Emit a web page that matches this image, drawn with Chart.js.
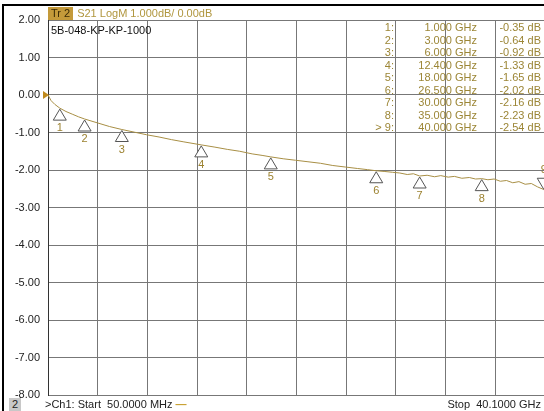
<!DOCTYPE html>
<html lang="en">
<head>
<meta charset="UTF-8">
<title>S21 LogM</title>
<script src="https://cdn.jsdelivr.net/npm/chart.js"></script>
<style>
  html, body { margin: 0; padding: 0; background: #fff; }
  body { width: 544px; height: 411px; overflow: hidden; position: relative; font-family: Arial, "Liberation Sans", sans-serif; }
  #chart { position: absolute; left: 0; top: 0; }
  .frame-top { position: absolute; left: 2px; top: 4px; width: 560px; height: 2px; background: #000; }
  .frame-left { position: absolute; left: 2px; top: 4px; width: 2px; height: 420px; background: #000; }
  .hdr { position: absolute; top: 7px; left: 48px; height: 13px; line-height: 13px; font-size: 11px; white-space: nowrap; }
  .tr { background: #c49a3a; color: #3b2b05; padding: 0 3px; display: inline-block; }
  .hdr .rest { color: #b0963e; margin-left: 4px; }
  .dut { position: absolute; top: 24px; left: 51px; font-size: 11px; color: #111; line-height: 13px; }
  .mk { position: absolute; font-size: 11px; color: #9c8636; line-height: 13px; white-space: nowrap; }
  .foot { position: absolute; top: 398px; font-size: 11px; line-height: 13px; color: #222; white-space: nowrap; }
  .chn { left: 9px; width: 12px; text-align: center; background: #c8c8c8; }
</style>
</head>
<body>
<canvas id="chart" width="560" height="411"></canvas>
<div class="frame-top"></div>
<div class="frame-left"></div>
<div class="hdr"><span class="tr">Tr 2</span><span class="rest">S21 LogM 1.000dB/ 0.00dB</span></div>
<div class="dut">5B-048-KP-KP-1000</div>
<div id="table"></div>
<div class="foot chn">2</div>
<div class="foot" style="left:45px">&gt;Ch1: Start&nbsp; 50.0000 MHz <span style="color:#c8a030;font-weight:bold">—</span></div>
<div class="foot" style="right:3px">Stop&nbsp; 40.1000 GHz</div>
<script>
// trace (GHz, dB)
const freqs = [0.05, 0.3, 0.6, 1.0, 1.5, 2.0, 2.5, 3.0, 4.0, 5.0, 6.0, 7.0, 8.0, 9.0, 10.0, 11.0,
  12.4, 13.5, 14.5, 15.5, 16.5, 17.3, 18.0, 19.0, 20.0, 21.0, 22.0, 23.0, 24.0, 25.0, 25.8,
  26.5, 27.2, 27.8, 28.4, 29.0, 29.5, 30.0, 30.6, 31.2, 31.7, 32.3, 32.8, 33.4, 34.0, 34.5,
  35.0, 35.5, 36.0, 36.5, 37.0, 37.5, 38.0, 38.5, 39.0, 39.5, 40.0, 40.1];
const s21 = [0.00, -0.15, -0.25, -0.35, -0.44, -0.51, -0.58, -0.64, -0.74, -0.84, -0.92, -0.99, -1.06, -1.12, -1.19, -1.25,
  -1.33, -1.39, -1.45, -1.50, -1.57, -1.61, -1.65, -1.70, -1.74, -1.78, -1.82, -1.88, -1.92, -1.96, -1.99,
  -2.02, -2.04, -2.06, -2.08, -2.12, -2.10, -2.16, -2.14, -2.18, -2.15, -2.19, -2.17, -2.22, -2.20, -2.24,
  -2.23, -2.26, -2.24, -2.30, -2.28, -2.34, -2.31, -2.38, -2.36, -2.45, -2.52, -2.50];

// markers
const markerFreqs = [1.0, 3.0, 6.0, 12.4, 18.0, 26.5, 30.0, 35.0, 40.0];
const markerVals = [-0.35, -0.64, -0.92, -1.33, -1.65, -2.02, -2.16, -2.23, -2.54];
const markerFreqText = ['1.000 GHz', '3.000 GHz', '6.000 GHz', '12.400 GHz', '18.000 GHz', '26.500 GHz', '30.000 GHz', '35.000 GHz', '40.000 GHz'];

const startGHz = 0.05, stopGHz = 40.1, divisions = 10;
const yTicks = [2, 1, 0, -1, -2, -3, -4, -5, -6, -7, -8];

// marker table (text)
let rows = '';
markerFreqs.forEach((f, i) => {
  const top = 21 + i * 12.5;
  const lbl = (i === 8 ? '&gt; ' : '') + (i + 1) + ':';
  rows += `<div class="mk" style="top:${top}px;right:${544 - 394}px">${lbl}</div>`;
  rows += `<div class="mk" style="top:${top}px;right:${544 - 477}px">${markerFreqText[i]}</div>`;
  rows += `<div class="mk" style="top:${top}px;right:${544 - 541}px">${markerVals[i].toFixed(2)} dB</div>`;
});
document.getElementById('table').innerHTML = rows;

const markerPlugin = {
  id: 'markers',
  afterDatasetsDraw(chart) {
    const { ctx, scales: { x, y } } = chart;
    ctx.save();
    // reference level pointer
    const y0 = y.getPixelForValue(0);
    ctx.fillStyle = '#c08a1c';
    ctx.beginPath();
    ctx.moveTo(43, y0 - 4); ctx.lineTo(49, y0); ctx.lineTo(43, y0 + 4);
    ctx.closePath(); ctx.fill();

    ctx.font = '11px Arial, "Liberation Sans", sans-serif';
    ctx.textAlign = 'center';
    markerFreqs.forEach((f, i) => {
      const px = x.getPixelForValue(f);
      const py = y.getPixelForValue(markerVals[i]);
      const up = i === 8 ? -1 : 1;
      ctx.strokeStyle = '#555';
      ctx.fillStyle = '#fff';
      ctx.lineWidth = 1;
      ctx.beginPath();
      ctx.moveTo(px, py + up);
      ctx.lineTo(px - 6.5, py + up * 12);
      ctx.lineTo(px + 6.5, py + up * 12);
      ctx.closePath();
      ctx.fill(); ctx.stroke();
      ctx.fillStyle = '#9c8230';
      ctx.textBaseline = 'middle';
      ctx.fillText(String(i + 1), px, py + up * 20);
    });
    ctx.restore();
  }
};

new Chart(document.getElementById('chart'), {
  type: 'line',
  data: {
    datasets: [{
      data: freqs.map((f, i) => ({ x: f, y: s21[i] })),
      borderColor: '#a88f45',
      borderWidth: 1,
      pointRadius: 0,
      tension: 0
    }]
  },
  options: {
    responsive: false,
    animation: false,
    layout: { padding: { left: 0, top: 20, right: 15, bottom: 16 } },
    plugins: { legend: { display: false }, tooltip: { enabled: false } },
    scales: {
      x: {
        type: 'linear',
        min: startGHz,
        max: stopGHz,
        afterBuildTicks: s => {
          const t = [];
          for (let i = 0; i <= divisions; i++) t.push({ value: startGHz + i * (stopGHz - startGHz) / divisions });
          s.ticks = t;
        },
        ticks: { display: false },
        grid: { color: '#777', drawTicks: false },
        border: { display: false }
      },
      y: {
        min: -8,
        max: 2,
        afterBuildTicks: s => { s.ticks = yTicks.map(v => ({ value: v })); },
        afterFit: s => { s.width = 48; },
        ticks: {
          callback: v => v.toFixed(2),
          color: '#222',
          padding: 8,
          font: { family: 'Arial, "Liberation Sans", sans-serif', size: 11 }
        },
        grid: { color: '#777', drawTicks: false },
        border: { color: '#333' }
      }
    }
  },
  plugins: [markerPlugin]
});
</script>
</body>
</html>
